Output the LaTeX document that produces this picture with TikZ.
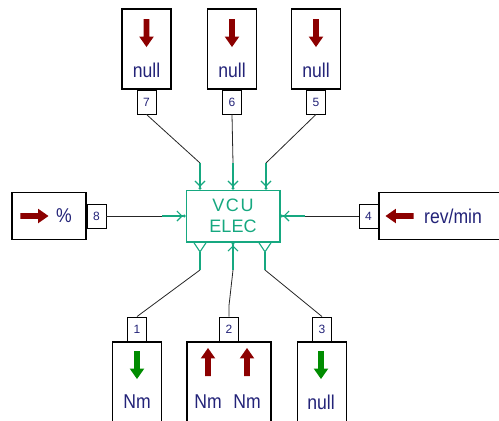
\documentclass[tikz,border=0pt]{standalone}
\usepackage{fontspec}
\setmainfont{Liberation Sans}
\newfontfamily\labelfont[FakeStretch=0.88]{Liberation Sans}
\usetikzlibrary{arrows.meta, positioning, shapes.arrows, calc}

\definecolor{wiregreen}{RGB}{22,168,128}
\definecolor{sigred}{RGB}{140,0,0}
\definecolor{siggreen}{RGB}{0,140,0}
\definecolor{labelblue}{RGB}{35,35,120}

\begin{document}
\begin{tikzpicture}[
  x=1pt, y=-1pt,
  box/.style={draw, line width=1.1pt, inner sep=0pt},
  port/.style={box, minimum width=49pt, minimum height=80pt},
  tag/.style={
    box,
    line width=0.9pt,
    minimum width=19pt,
    minimum height=24pt,
    font=\fontsize{12}{12}\selectfont,
    text=labelblue
  },
  lbl/.style={font=\labelfont\fontsize{20}{20}\selectfont, text=labelblue, inner sep=0pt},
  sig/.style={
    single arrow,
    fill=#1,
    inner xsep=0pt,
    inner ysep=2.6pt,
    minimum height=28pt,
    single arrow head extend=4.5pt,
    single arrow tip angle=70
  },
  link/.style={line width=0.8pt, black!85},
  wire/.style={line width=1.1pt, wiregreen},
  into/.style={wire, -{Straight Barb[length=5pt, width=10pt] Circle[length=3pt]}},
  outof/.style={wire, {Straight Barb[reversed, length=9pt, width=12pt]}-}
]

  \useasboundingbox (0,0) rectangle (499,421);

  % central unit
  \node[draw=wiregreen, line width=1.5pt, minimum width=93pt, minimum height=51pt,
        inner sep=0pt, align=center, text=wiregreen,
        font=\fontsize{18}{21}\selectfont] (vcu) at (233,216)
        {{\addfontfeatures{LetterSpace=9}VCU}\\ELEC};
  \draw[wiregreen, line width=1.6pt] ([xshift=0.4pt]vcu.north east)
    -- ([xshift=0.4pt, yshift=-0.4pt]vcu.south east) -- ([yshift=-0.4pt]vcu.south west);

  % upper ports
  \node[port] (b7) at (146.5,49) {};
  \node[sig=sigred, rotate=-90] (a7) at (146.5,31) {};
  \node[lbl] (l7) at (146.5,70) {null};
  \node[tag, below=0pt of b7] (t7) {7};

  \node[port] (b6) at (232,49) {};
  \node[sig=sigred, rotate=-90] (a6) at (232,31) {};
  \node[lbl] (l6) at (232,70) {null};
  \node[tag, below=0pt of b6] (t6) {6};

  \node[port] (b5) at (316,49) {};
  \node[sig=sigred, rotate=-90] (a5) at (316,31) {};
  \node[lbl] (l5) at (316,70) {null};
  \node[tag, below=0pt of b5] (t5) {5};

  \coordinate (j7) at (200,163);
  \coordinate (j6) at (233,163);
  \coordinate (j5) at (266,163);
  \draw[link] (t7.south) -- (j7);
  \draw[link] (t6.south) -- (j6);
  \draw[link] (t5.south) -- (j5);
  \draw[into] (j7) -- (j7 |- vcu.north);
  \draw[into] (j6) -- (j6 |- vcu.north);
  \draw[into] (j5) -- (j5 |- vcu.north);

  % side ports
  \node[box, minimum width=74pt, minimum height=47pt] (b8) at (49,216) {};
  \node[sig=sigred] (a8) at (32.5,216) {};
  \node[lbl] (l8) at (64,216) {\%};
  \node[tag, right=0pt of b8] (t8) {8};
  \coordinate (j8) at (162,216);
  \draw[link] (t8.east) -- (j8);
  \draw[into] (j8) -- (vcu.west);

  \node[box, minimum width=130pt, minimum height=47pt] (b4) at (444,216) {};
  \node[sig=sigred, rotate=180] (a4) at (401.5,216) {};
  \node[lbl, anchor=west] (l4) at (424,216) {rev/min};
  \node[tag, left=0pt of b4] (t4) {4};
  \coordinate (j4) at (305,216);
  \draw[link] (t4.west) -- (j4);
  \draw[into] (j4) -- (vcu.east);

  % lower ports
  \node[port] (b1) at (137,382) {};
  \node[sig=siggreen, rotate=-90] (a1) at (137,363) {};
  \node[lbl] (l1) at (137,402) {Nm};
  \node[tag, above=0pt of b1] (t1) {1};

  \node[port, minimum width=84pt] (b2) at (229,382) {};
  \node[sig=sigred, rotate=90] (a2a) at (208,364) {};
  \node[sig=sigred, rotate=90] (a2b) at (247,364) {};
  \node[lbl] (l2a) at (208,402) {Nm};
  \node[lbl] (l2b) at (247,402) {Nm};
  \node[tag, above=0pt of b2] (t2) {2};

  \node[port] (b3) at (322,382) {};
  \node[sig=siggreen, rotate=-90] (a3) at (321,363) {};
  \node[lbl] (l3) at (321,402) {null};
  \node[tag, above=0pt of b3] (t3) {3};

  \coordinate (j1) at (200,270);
  \coordinate (j2) at (233,270);
  \coordinate (j3) at (265,270);
  \draw[link] (t1.north) -- (j1);
  \draw[link] (t2.north) -- ++(0,-11) -- (j2);
  \draw[link] (t3.north) -- (j3);
  \draw[outof] (vcu.south -| j1) -- (j1);
  \draw[into] (j2) -- (j2 |- vcu.south);
  \draw[outof] (vcu.south -| j3) -- (j3);

\end{tikzpicture}
\end{document}
